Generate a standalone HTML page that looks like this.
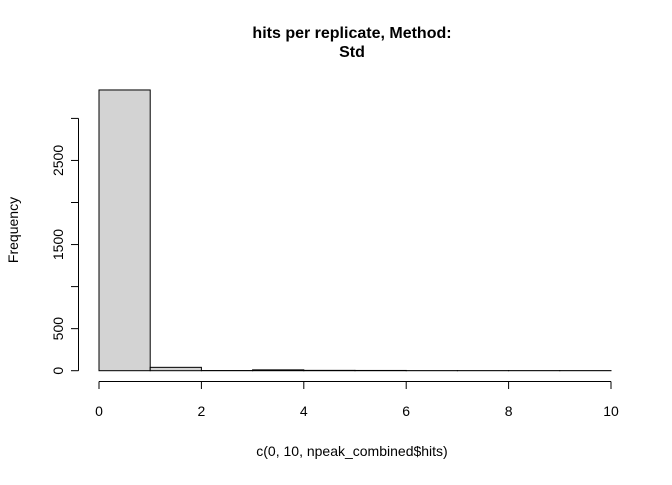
<!DOCTYPE html>
<html><head><meta charset="utf-8"><style>
body{margin:0;background:#fff}
text{font-family:"Liberation Sans",Arial,sans-serif;fill:#000}
</style></head><body>
<svg width="672" height="480" viewBox="0 0 672 480">
<text x="352" y="38" text-anchor="middle" font-size="16" font-weight="bold">hits per replicate, Method:</text>
<text x="352" y="57" text-anchor="middle" font-size="16" font-weight="bold">Std</text>
<text x="352" y="456" text-anchor="middle" font-size="14">c(0, 10, npeak_combined$hits)</text>
<text transform="translate(18,230) rotate(-90)" text-anchor="middle" font-size="14">Frequency</text>
<g id="bars"></g><g id="xaxis"></g><g id="yaxis"></g>
</svg>
<script>
const binStarts=[0,1,2,3,4,5,6,7,8,9];
const counts=[3338,40,2,10,4,3,1,1,1,1];
const xTicks=[0,2,4,6,8,10];
const yTicks=[0,500,1000,1500,2000,2500,3000];
const yLabels=["0","500","","1500","","2500",""];
const NS="http://www.w3.org/2000/svg";
const X=v=>99+v*51.2;
const Y=v=>370.7-v*0.0841;
function mk(t,a,p){const e=document.createElementNS(NS,t);for(const k in a)e.setAttribute(k,a[k]);p.appendChild(e);return e;}
const bars=document.getElementById('bars');
counts.forEach((c,i)=>{
 const r=mk('rect',{x:X(binStarts[i]),y:Y(c),width:X(binStarts[i]+1)-X(binStarts[i]),height:Y(0)-Y(c),fill:'#d3d3d3',stroke:'#000','stroke-width':1},bars);
 
 
});
const xa=document.getElementById('xaxis');


mk('line',{x1:X(xTicks[0]),x2:X(xTicks[xTicks.length-1]),y1:381.5,y2:381.5,stroke:'#000'},xa);
xTicks.forEach(t=>{
 mk('line',{x1:X(t),x2:X(t),y1:381.5,y2:389,stroke:'#000'},xa);
 const tx=mk('text',{x:X(t),y:416,'text-anchor':'middle','font-size':14},xa);tx.textContent=t;
 
 
});
const ya=document.getElementById('yaxis');


mk('line',{x1:78.5,x2:78.5,y1:Y(yTicks[0]),y2:Y(yTicks[yTicks.length-1]),stroke:'#000'},ya);
yTicks.forEach((t,i)=>{
 mk('line',{x1:71,x2:78.5,y1:Y(t),y2:Y(t),stroke:'#000'},ya);
 if(yLabels[i]){const tx=mk('text',{transform:`translate(63,${Y(t)}) rotate(-90)`,'text-anchor':'middle','font-size':14},ya);tx.textContent=yLabels[i];
 
 }
});
</script>
</body></html>
